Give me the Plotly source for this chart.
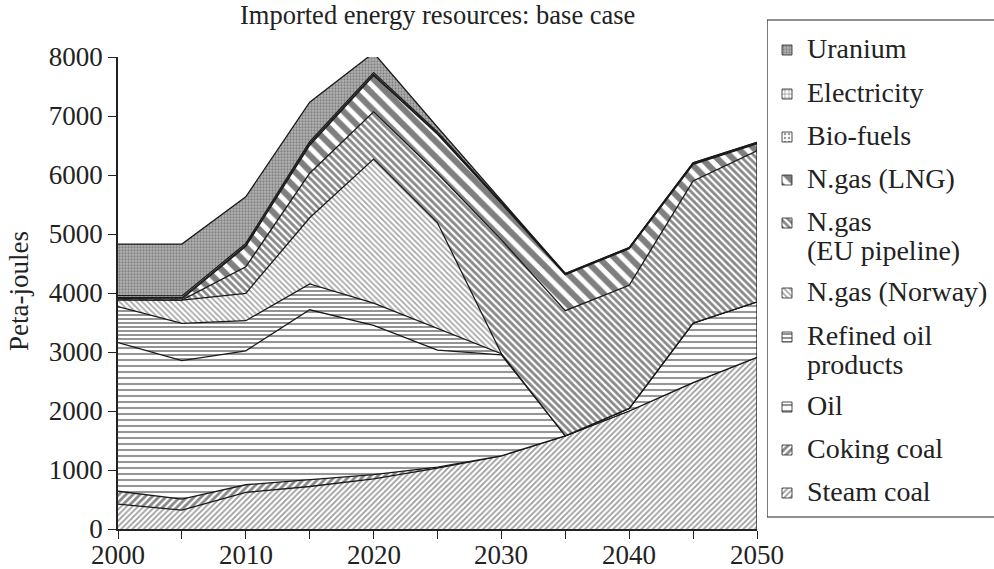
import plotly.graph_objects as go

# Imported energy resources, base case (PJ per year, stacked)
years = [2000, 2005, 2010, 2015, 2020, 2025, 2030, 2035, 2040, 2045, 2050]
steam_coal = [420, 320, 620, 720, 850, 1030, 1240, 1580, 2000, 2480, 2910]
coking_coal = [220, 185, 130, 115, 70, 20, 0, 0, 0, 0, 0]
oil = [2520, 2350, 2270, 2880, 2530, 1980, 1710, 0, 45, 1010, 940]
refined_oil = [610, 630, 510, 440, 380, 370, 20, 0, 0, 0, 0]
ngas_norway = [115, 395, 465, 1120, 2440, 1790, 0, 0, 0, 0, 0]
ngas_eu = [0, 0, 450, 755, 800, 835, 1930, 2120, 2085, 2410, 2560]
ngas_lng = [20, 20, 345, 475, 615, 665, 620, 610, 620, 280, 120]
bio_fuels = [20, 20, 20, 30, 20, 20, 10, 10, 10, 10, 10]
electricity = [30, 30, 30, 30, 30, 20, 15, 10, 10, 15, 15]
uranium = [875, 880, 790, 670, 335, 80, 25, 0, 0, 0, 0]

x_tick_vals = [2000, 2005, 2010, 2015, 2020, 2025, 2030, 2035, 2040, 2045, 2050]
x_tick_text = ["2000", "", "2010", "", "2020", "", "2030", "", "2040", "", "2050"]
y_tick_vals = [0, 1000, 2000, 3000, 4000, 5000, 6000, 7000, 8000]
y_tick_text = ["0", "1000", "2000", "3000", "4000", "5000", "6000", "7000", "8000"]

series_names = ["Steam coal", "Coking coal", "Oil", "Refined oil\nproducts",
                "N.gas (Norway)", "N.gas\n(EU pipeline)", "N.gas (LNG)",
                "Bio-fuels", "Electricity", "Uranium"]
series_values = [steam_coal, coking_coal, oil, refined_oil, ngas_norway,
                 ngas_eu, ngas_lng, bio_fuels, electricity, uranium]

# Monochrome hatch styles, bottom of the stack first
patterns = [
    dict(shape="/", fgcolor="#3a3a3a", bgcolor="white", size=4, solidity=0.45),
    dict(shape="/", fgcolor="#111111", bgcolor="white", size=5, solidity=0.55),
    dict(shape="-", fgcolor="#2e2e2e", bgcolor="white", size=6, solidity=0.35),
    dict(shape="-", fgcolor="#2a2a2a", bgcolor="white", size=4, solidity=0.5),
    dict(shape="\\", fgcolor="#4a4a4a", bgcolor="white", size=4, solidity=0.4),
    dict(shape="\\", fgcolor="#111111", bgcolor="white", size=5, solidity=0.55),
    dict(shape="\\", fgcolor="#000000", bgcolor="white", size=11, solidity=0.55),
    dict(shape=".", fgcolor="#333333", bgcolor="white", size=4, solidity=0.3),
    dict(shape="+", fgcolor="#111111", bgcolor="white", size=4, solidity=0.3),
    dict(shape=".", fgcolor="#505050", bgcolor="#b4b4b4", size=3, solidity=0.45),
]

W, H = 994, 569
# plot-area edges in pixels
PX_L, PX_R, PX_T, PX_B = 118, 757, 57, 529
# legend panel edges in pixels
LG_L, LG_T, LG_B = 767, 20, 517

FONT = "Liberation Serif"
INK = "#222222"

fig = go.Figure()

for name, vals, pat in zip(series_names, series_values, patterns):
    fig.add_trace(go.Scatter(
        x=years, y=vals, name=name.replace("\n", " "), stackgroup="imports",
        mode="lines", line=dict(color="#1a1a1a", width=1.3),
        fillpattern=pat, showlegend=False, xaxis="x", yaxis="y",
    ))

# closing edge of the stack at the final year
totals = [sum(v[i] for v in series_values) for i in range(len(years))]
fig.add_shape(type="line", xref="x", yref="y", x0=years[-1], x1=years[-1],
              y0=0, y1=totals[-1], line=dict(color="#1a1a1a", width=1.3))

# x tick labels, set a little closer to the axis than the default standoff
for xv, txt in zip(x_tick_vals, x_tick_text):
    if txt:
        fig.add_annotation(x=xv, y=1 - 555 / H, xref="x", yref="paper", text=txt,
                           showarrow=False, xanchor="center", yanchor="middle",
                           font=dict(family=FONT, size=27, color=INK))

# ---- legend panel on its own pixel-scaled axes ----
legend_rows = [  # (label lines, text centre y of first line)
    (["Uranium"], 48),
    (["Electricity"], 92),
    (["Bio-fuels"], 135),
    (["N.gas (LNG)"], 178),
    (["N.gas", "(EU pipeline)"], 221),
    (["N.gas (Norway)"], 291),
    (["Refined oil", "products"], 335),
    (["Oil"], 405),
    (["Coking coal"], 448),
    (["Steam coal"], 491),
]
legend_patterns = patterns[::-1]

fig.add_shape(type="rect", xref="x2", yref="y2", x0=LG_L, x1=W + 20, y0=LG_T, y1=LG_B,
              line=dict(color="#222", width=1.2), fillcolor="rgba(0,0,0,0)")

for (lines, yc), pat in zip(legend_rows, legend_patterns):
    yi = yc + 2
    x0, x1 = 782, 792
    fig.add_trace(go.Scatter(
        x=[x0, x1, x1, x0, x0], y=[yi - 5, yi - 5, yi + 5, yi + 5, yi - 5],
        fill="toself", fillpattern=pat, mode="lines",
        line=dict(color="#222", width=0.8), showlegend=False,
        hoverinfo="skip", xaxis="x2", yaxis="y2",
    ))
    for k, txt in enumerate(lines):
        fig.add_annotation(x=805, y=yc + k * 29, xref="x2", yref="y2", text=txt,
                           showarrow=False, xanchor="left", yanchor="middle",
                           font=dict(family=FONT, size=28, color=INK))

# title and y-axis label (paper space = whole figure, margins are zero)
fig.add_annotation(x=(PX_L + PX_R) / 2 / W, y=1 - 15 / H, xref="paper", yref="paper",
                   text="Imported energy resources: base case", showarrow=False,
                   xanchor="center", yanchor="middle",
                   font=dict(family=FONT, size=26.5, color=INK))
fig.add_annotation(x=19 / W, y=1 - 291 / H, xref="paper", yref="paper",
                   text="Peta-joules", textangle=-90, showarrow=False,
                   xanchor="center", yanchor="middle",
                   font=dict(family=FONT, size=27, color=INK))

axis_font = dict(family=FONT, size=27, color=INK)
fig.update_layout(
    width=W, height=H, margin=dict(l=0, r=0, t=0, b=0, autoexpand=False),
    paper_bgcolor="white", plot_bgcolor="rgba(0,0,0,0)",
    showlegend=False,
    xaxis=dict(domain=[PX_L / W, PX_R / W], range=[years[0], years[-1]],
               tickvals=x_tick_vals, showticklabels=False, ticks="outside",
               ticklen=8, tickwidth=1.3, tickcolor="#222", showgrid=False,
               zeroline=False, showline=True, linecolor="#222", linewidth=1.5,
               anchor="y", automargin=False),
    yaxis=dict(domain=[(H - PX_B) / H, (H - PX_T) / H], range=[0, 8000],
               tickvals=y_tick_vals, ticktext=y_tick_text, ticks="outside",
               ticklen=8, tickwidth=1.3, tickcolor="#222", showgrid=False,
               zeroline=False, showline=True, linecolor="#222", linewidth=1.5,
               tickfont=axis_font, anchor="x", automargin=False),
    xaxis2=dict(domain=[LG_L / W, 1], range=[LG_L, W], visible=False, anchor="y2",
                fixedrange=True, automargin=False),
    yaxis2=dict(domain=[0, 1], range=[H, 0], visible=False, anchor="x2",
                fixedrange=True, automargin=False),
)

fig.write_html("out.html")
